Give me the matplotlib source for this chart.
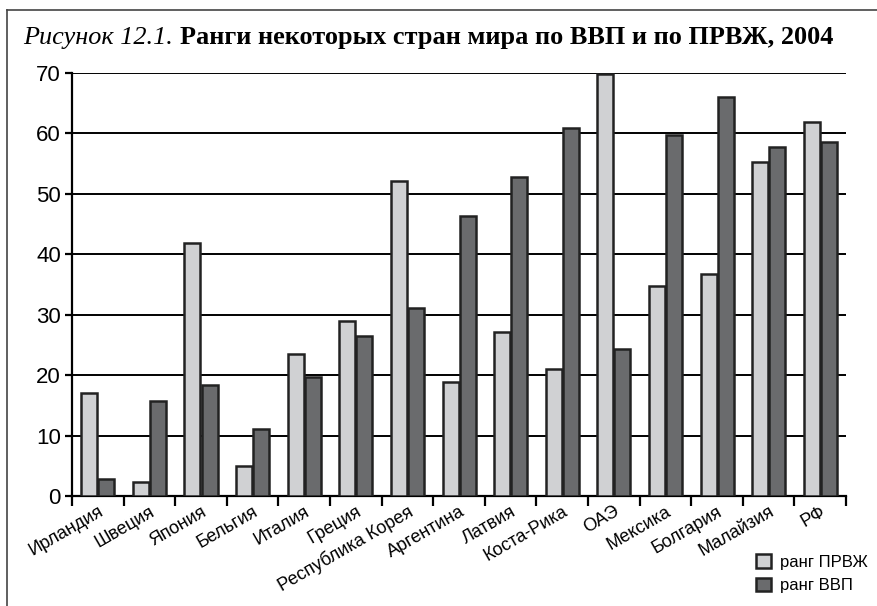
"""
    Ранги некоторых стран мира по ВВП и по ПРВЖ, 2004
"""

import numpy as np
from matplotlib import pyplot as plt
from matplotlib.lines import Line2D

# данные
strany = ["Ирландия", "Швеция", "Япония", "Бельгия", "Италия", "Греция",
          "Республика Корея", "Аргентина", "Латвия", "Коста-Рика", "ОАЭ",
          "Мексика", "Болгария", "Малайзия", "РФ"]
rang_prvzh = [17.1, 2.4, 41.9, 5.0, 23.5, 28.9, 52.1, 18.8, 27.1, 21.1,
              69.8, 34.8, 36.8, 55.3, 61.9]
rang_vvp = [2.8, 15.8, 18.4, 11.1, 19.7, 26.5, 31.1, 46.3, 52.8, 60.9,
            24.4, 59.8, 66.1, 57.8, 58.6]

plt.rcParams["font.family"] = ["Liberation Sans", "DejaVu Sans"]

fig = plt.figure(figsize=(8.78, 6.06), dpi=100)
ax = fig.add_axes([0.082, 0.1815, 0.8816, 0.698])

x = np.arange(len(strany))
w = 0.31
b1 = ax.bar(x - w / 2 - 0.01, rang_prvzh, w, color="#d0d1d3", edgecolor="#222222",
            linewidth=1.8, label="ранг ПРВЖ", zorder=3)
b2 = ax.bar(x + w / 2 + 0.01, rang_vvp, w, color="#6a6b6d", edgecolor="#222222",
            linewidth=1.8, label="ранг ВВП", zorder=3)

ax.set_xlim(-0.5, len(strany) - 0.5)
ax.set_ylim(0, 70)
ax.set_yticks(range(0, 71, 10))
ax.yaxis.grid(True, color="black", linewidth=1.4)
ax.set_axisbelow(True)

# метки стран по центру, засечки между группами
ax.set_xticks(np.arange(-0.5, len(strany), 1.0))
ax.set_xticklabels([])
ax.set_xticks(x, minor=True)
ax.set_xticklabels(strany, minor=True, rotation=30, ha="right",
                   rotation_mode="anchor", fontsize=13)
ax.tick_params(axis="x", which="minor", length=0, pad=5)
ax.tick_params(axis="x", which="major", length=7, width=1.6, direction="out")
ax.tick_params(axis="y", length=5, width=1.6, labelsize=16, pad=3)

for s in ["top", "right"]:
    ax.spines[s].set_visible(False)
ax.spines["left"].set_linewidth(1.6)
ax.spines["bottom"].set_linewidth(1.6)

# легенда
fig.legend(handles=[b1, b2], loc="upper left",
           bbox_to_anchor=(748 / 878, 1 - 546 / 606), frameon=False,
           fontsize=12, handlelength=0.9, handleheight=0.9,
           handletextpad=0.5, labelspacing=0.45, borderpad=0)

# рамка рисунка
fig.add_artist(Line2D([7 / 878, 1], [1 - 10 / 606, 1 - 10 / 606],
                      color="#444444", linewidth=1.2))
fig.add_artist(Line2D([7 / 878, 7 / 878], [0, 1 - 10 / 606],
                      color="#444444", linewidth=1.2))

# заголовок из двух частей
t1 = fig.text(23 / 878, 1 - 44 / 606, "Рисунок 12.1. ", fontsize=18.9,
              family="Liberation Serif", style="italic")
fig.canvas.draw()
bb = t1.get_window_extent()
fig.text(bb.x1 / fig.bbox.width, 1 - 44 / 606,
         "Ранги некоторых стран мира по ВВП и по ПРВЖ, 2004",
         fontsize=18.9, family="Liberation Serif", weight="bold")

plt.savefig("out.png", dpi=100)
